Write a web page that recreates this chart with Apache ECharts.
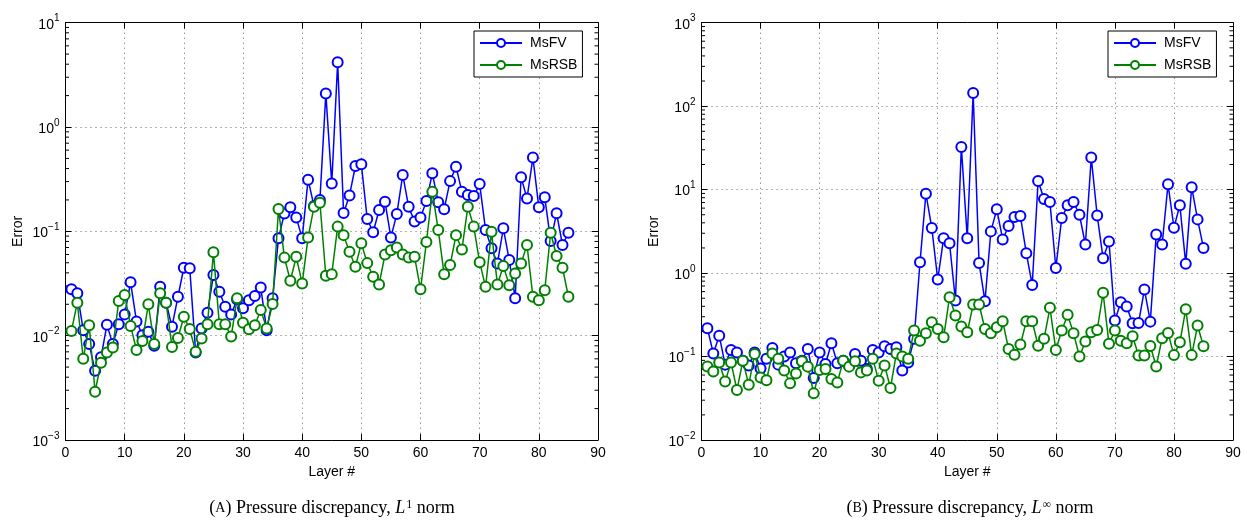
<!DOCTYPE html>
<html><head><meta charset="utf-8">
<script src="https://cdn.jsdelivr.net/npm/echarts@6/dist/echarts.min.js"></script>
<style>html,body{margin:0;padding:0;background:#fff}#c{width:1247px;height:525px}</style>
</head><body><div id="c"></div>
<script>
// ---------- data ----------
const layers = Array.from({length: 85}, (_, k) => k + 1);

// (A) L1 norm
const l1MsFV = [0.0278,0.0255,0.0113,0.0083,0.0046,0.0062,0.0127,0.0083,0.0129,0.016,
  0.0325,0.0137,0.0101,0.0109,0.008,0.0294,0.0207,0.0122,0.0236,0.0448,
  0.0442,0.0069,0.0117,0.0166,0.0381,0.0264,0.0189,0.016,0.0222,0.0183,
  0.0219,0.024,0.029,0.0113,0.0228,0.0857,0.1486,0.17,0.136,0.0857,
  0.313,0.175,0.2,2.1,0.288,4.17,0.15,0.221,0.423,0.44,
  0.131,0.098,0.16,0.192,0.0875,0.147,0.347,0.172,0.124,0.136,
  0.195,0.36,0.19,0.163,0.303,0.416,0.24,0.223,0.218,0.284,
  0.103,0.0687,0.0493,0.107,0.053,0.0228,0.33,0.207,0.51,0.17,
  0.212,0.081,0.149,0.074,0.097];
const l1MsRSB = [0.0111,0.0207,0.006,0.0126,0.0029,0.0055,0.0069,0.0077,0.0215,0.0245,
  0.0124,0.0073,0.0089,0.02,0.0083,0.0255,0.0207,0.0078,0.0095,0.0152,
  0.0116,0.007,0.0094,0.0129,0.063,0.0129,0.0129,0.0098,0.0228,0.0133,
  0.0115,0.0126,0.0176,0.0117,0.0201,0.164,0.056,0.0336,0.057,0.0317,
  0.0875,0.172,0.188,0.0375,0.0389,0.111,0.092,0.0638,0.0458,0.0767,
  0.0496,0.0367,0.031,0.06,0.066,0.07,0.06,0.056,0.057,0.0278,
  0.079,0.24,0.103,0.0387,0.0475,0.092,0.067,0.172,0.111,0.0505,
  0.0294,0.099,0.031,0.0465,0.0305,0.0395,0.0493,0.074,0.0236,0.0219,
  0.0273,0.097,0.058,0.0448,0.0236];

// (B) L-infinity norm
const linfMsFV = [0.218,0.109,0.178,0.08,0.12,0.112,0.089,0.078,0.112,0.072,
  0.094,0.127,0.08,0.1,0.112,0.083,0.089,0.123,0.0553,0.112,
  0.0815,0.144,0.083,0.089,0.078,0.107,0.089,0.071,0.12,0.112,
  0.133,0.123,0.129,0.068,0.085,0.163,1.35,8.95,3.46,0.837,
  2.62,2.28,0.469,32.5,2.62,144,1.32,0.46,3.16,5.8,
  2.53,3.66,4.69,4.82,1.73,0.72,12.7,7.7,7.1,1.15,
  4.56,6.5,7.1,5.0,2.2,24.2,4.9,1.51,2.39,0.27,
  0.448,0.397,0.25,0.252,0.635,0.262,2.9,2.2,11.6,3.5,
  6.5,1.29,10.7,4.4,2.0];
const linfMsRSB = [0.076,0.066,0.085,0.0503,0.085,0.0397,0.089,0.046,0.107,0.056,
  0.052,0.109,0.094,0.068,0.0477,0.0628,0.0876,0.0757,0.0362,0.069,
  0.071,0.0538,0.049,0.089,0.0757,0.0876,0.0646,0.068,0.094,0.0514,
  0.078,0.042,0.109,0.1,0.094,0.205,0.155,0.19,0.258,0.214,
  0.17,0.514,0.31,0.229,0.195,0.42,0.42,0.214,0.19,0.224,
  0.265,0.123,0.105,0.139,0.265,0.265,0.135,0.163,0.383,0.12,
  0.205,0.316,0.19,0.1,0.151,0.195,0.208,0.58,0.142,0.205,
  0.155,0.144,0.175,0.103,0.103,0.134,0.076,0.166,0.192,0.104,
  0.148,0.369,0.104,0.235,0.133];

const seriesNames = ['MsFV', 'MsRSB'];
const seriesColors = ['#0000ff', '#008000'];
const xRange = [0, 90];
const yRangeA = [1e-3, 1e1];
const yRangeB = [1e-2, 1e3];
const captionA = ['A', '1'];
const captionB = ['B', '\u221e'];

// ---------- chart ----------
const chart = echarts.init(document.getElementById('c'), null, {renderer: 'canvas'});
const SANS = 'Liberation Sans';
const SERIF = 'Liberation Serif';

function minorTickValues(r) {
  const out = [];
  const lo = Math.round(Math.log10(r[0])), hi = Math.round(Math.log10(r[1]));
  for (let e = lo; e < hi; e++) for (let m = 2; m <= 9; m++) out.push([0, m * Math.pow(10, e)]);
  return out;
}
function expLabel(v) {
  const e = Math.round(Math.log10(v));
  const s = e < 0 ? '\u2212' + (-e) : String(e);
  return '{b|10}{s|' + s + '}';
}

const grids = [
  {left: 65.5, top: 22.7, width: 532.5, height: 417.3},
  {left: 701.5, top: 22.7, width: 531.5, height: 417.3}
];
const yRanges = [yRangeA, yRangeB];
const dataSets = [[l1MsFV, l1MsRSB], [linfMsFV, linfMsRSB]];
const gridDots = {color: '#666', width: 1, type: [1, 4]};

const xAxes = [], yAxes = [], series = [];
grids.forEach((g, gi) => {
  const axisLine = {show: true, onZero: false, lineStyle: {color: '#000', width: 1}};
  const tick = {show: true, inside: true, length: 6, lineStyle: {color: '#000', width: 1}};
  xAxes.push({
    gridIndex: gi, type: 'value', min: xRange[0], max: xRange[1], interval: 10, position: 'bottom',
    axisLine, axisTick: tick,
    axisLabel: {color: '#000', fontSize: 14, fontFamily: SANS, margin: 6},
    splitLine: {show: true, lineStyle: gridDots},
    name: 'Layer #', nameLocation: 'middle', nameGap: 25,
    nameTextStyle: {color: '#000', fontSize: 14, fontFamily: SANS}
  });
  xAxes.push({
    gridIndex: gi, type: 'value', min: xRange[0], max: xRange[1], interval: 10, position: 'top',
    axisLine, axisTick: tick, axisLabel: {show: false}, splitLine: {show: false}
  });
  const yr = yRanges[gi];
  const nDec = Math.round(Math.log10(yr[1] / yr[0]));
  yAxes.push({
    gridIndex: gi, type: 'log', logBase: 10, min: yr[0], max: yr[1], splitNumber: nDec, position: 'left',
    axisLine, axisTick: tick,
    axisLabel: {
      margin: 6, formatter: expLabel,
      rich: {
        b: {fontSize: 14, fontFamily: SANS, color: '#000', padding: [4, 0, 0, 0]},
        s: {fontSize: 10, fontFamily: SANS, color: '#000', verticalAlign: 'top', padding: [0, 0, 8, 0]}
      }
    },
    splitLine: {show: true, lineStyle: gridDots},
    name: 'Error', nameLocation: 'middle', nameGap: 40, nameRotate: 90,
    nameTextStyle: {color: '#000', fontSize: 14, fontFamily: SANS}
  });
  yAxes.push({
    gridIndex: gi, type: 'log', logBase: 10, min: yr[0], max: yr[1], splitNumber: nDec, position: 'right',
    axisLine, axisTick: tick, axisLabel: {show: false}, splitLine: {show: false}
  });
  // minor log ticks on left and right edges
  series.push({
    type: 'custom', xAxisIndex: gi * 2, yAxisIndex: gi * 2, silent: true, z: 1,
    data: minorTickValues(yr), encode: {x: 0, y: 1}, clip: false,
    renderItem: function (params, api) {
      const cs = params.coordSys;
      const y = api.coord([0, api.value(1)])[1];
      return {type: 'group', children: [
        {type: 'line', shape: {x1: cs.x, y1: y, x2: cs.x + 3.5, y2: y}, style: {stroke: '#000', lineWidth: 1}},
        {type: 'line', shape: {x1: cs.x + cs.width - 3.5, y1: y, x2: cs.x + cs.width, y2: y}, style: {stroke: '#000', lineWidth: 1}}
      ]};
    }
  });
  dataSets[gi].forEach((vals, si) => {
    series.push({
      name: seriesNames[si], type: 'line', xAxisIndex: gi * 2, yAxisIndex: gi * 2,
      data: layers.map((x, k) => [x, vals[k]]),
      symbol: 'emptyCircle', symbolSize: 10, showSymbol: true,
      lineStyle: {color: seriesColors[si], width: 1.5},
      itemStyle: {color: seriesColors[si], borderColor: seriesColors[si], borderWidth: 1.5},
      z: 3 + si
    });
  });
});

function legendAt(left) {
  return {
    data: seriesNames, left: left, top: 31, orient: 'vertical',
    borderColor: '#000', borderWidth: 1, backgroundColor: '#fff',
    padding: [5, 5, 5, 5], itemGap: 8, itemWidth: 42, itemHeight: 10,
    textStyle: {color: '#000', fontSize: 14, fontFamily: SANS, padding: [0, 0, 0, 3]},
    selectedMode: false
  };
}

function caption(cx, c) {
  return {
    type: 'text', x: cx, y: 508, z: 10,
    style: {
      text: '{p|(}{sc|' + c[0] + '}{p|) Pressure discrepancy, }{i|L}{sup|' + c[1] + '}{p| norm}',
      align: 'center', verticalAlign: 'middle', textAlign: 'center', textVerticalAlign: 'middle',
      rich: {
        p: {fontSize: 18, fontFamily: SERIF, fill: '#000', color: '#000'},
        sc: {fontSize: 14, fontFamily: SERIF, fill: '#000', color: '#000'},
        i: {fontSize: 18, fontFamily: SERIF, fontStyle: 'italic', fill: '#000', color: '#000'},
        sup: {fontSize: 12, fontFamily: SERIF, fill: '#000', color: '#000', verticalAlign: 'top', padding: [0, 0, 7, 1]}
      }
    }
  };
}

chart.setOption({
  animation: false,
  backgroundColor: '#fff',
  grid: grids.map(g => Object.assign({containLabel: false}, g)),
  xAxis: xAxes,
  yAxis: yAxes,
  legend: [legendAt(474), legendAt(1108)],
  series: series,
  graphic: [caption(332, captionA), caption(970, captionB)]
});
</script>
</body></html>
